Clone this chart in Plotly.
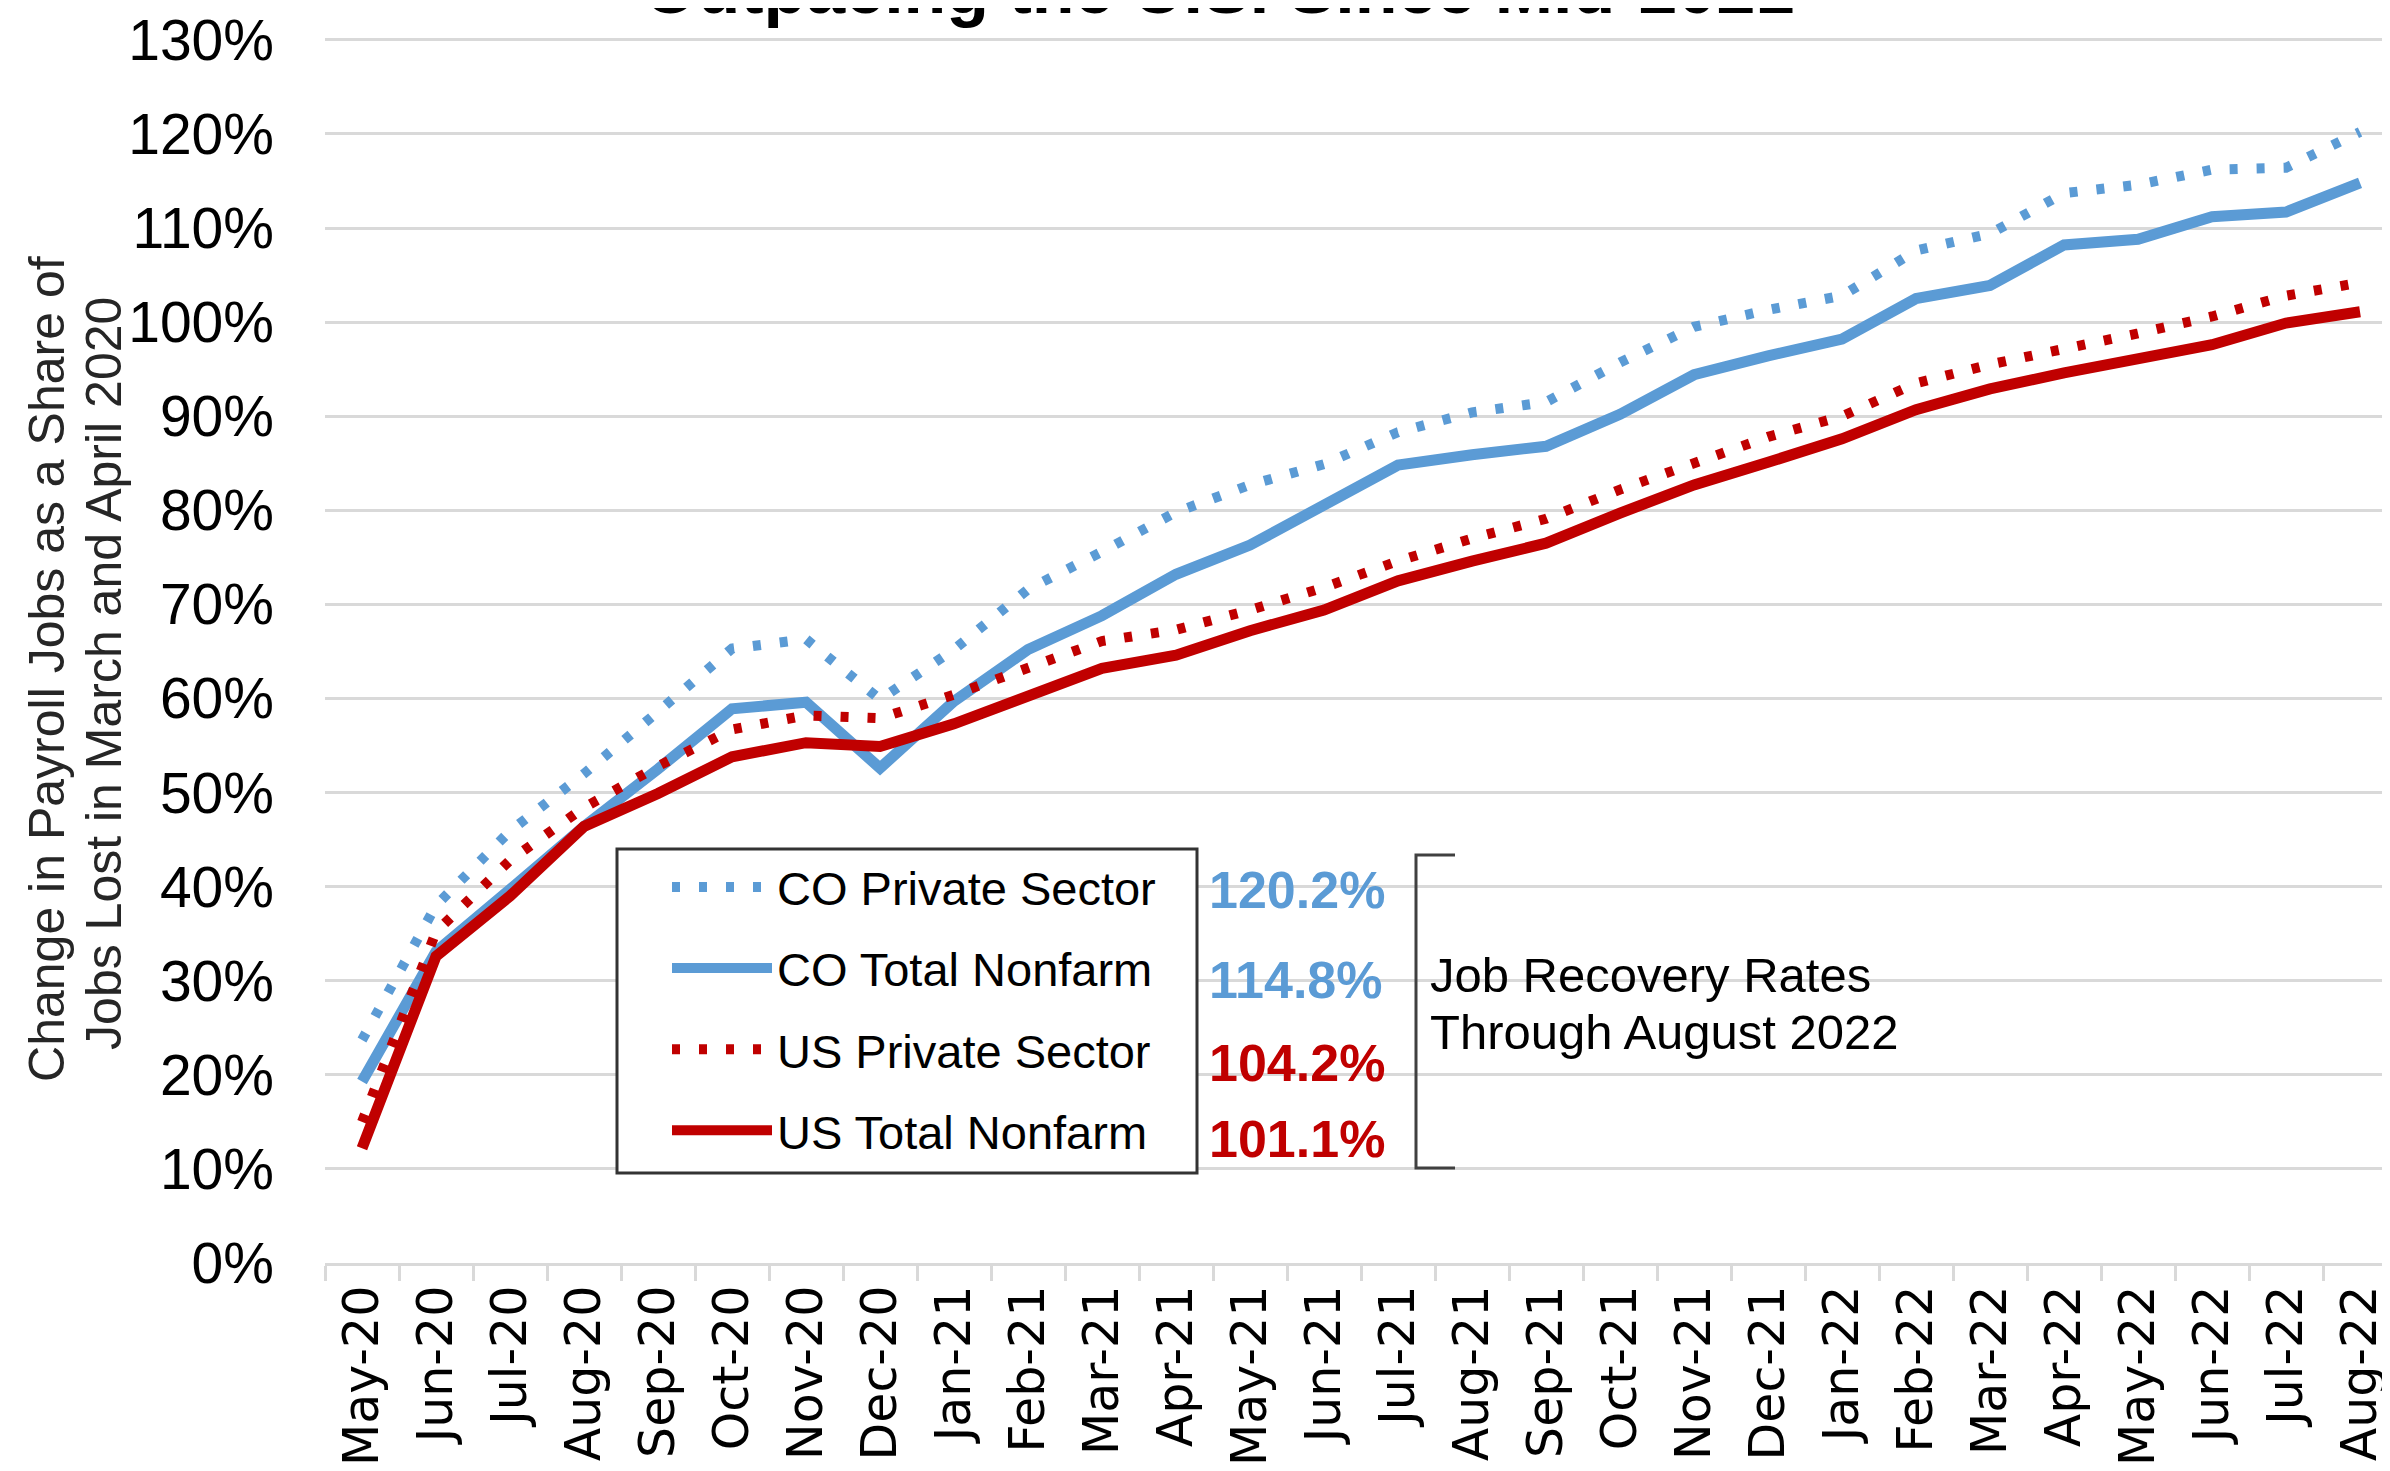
import plotly.graph_objects as go

# x categories
months = [
    "May-20", "Jun-20", "Jul-20", "Aug-20", "Sep-20", "Oct-20", "Nov-20", "Dec-20",
    "Jan-21", "Feb-21", "Mar-21", "Apr-21", "May-21", "Jun-21", "Jul-21", "Aug-21",
    "Sep-21", "Oct-21", "Nov-21", "Dec-21",
    "Jan-22", "Feb-22", "Mar-22", "Apr-22", "May-22", "Jun-22", "Jul-22", "Aug-22",
]

# recovery rates, % of jobs lost in Mar/Apr 2020
co_private = [23.7, 38.0, 45.9, 52.0, 58.6, 65.3, 66.3, 59.9, 65.2, 71.6, 75.6, 79.8,
              82.7, 84.9, 88.3, 90.4, 91.5, 95.7, 99.5, 101.3, 102.8, 107.6, 109.4,
              113.7, 114.6, 116.2, 116.4, 120.2]
co_total = [19.3, 33.1, 39.7, 46.4, 52.5, 58.9, 59.6, 52.6, 59.7, 65.2, 68.8, 73.2,
            76.3, 80.7, 84.8, 85.9, 86.8, 90.2, 94.4, 96.4, 98.2, 102.5, 103.9,
            108.2, 108.8, 111.2, 111.7, 114.8]
us_private = [15.0, 35.2, 42.8, 48.4, 52.8, 56.7, 58.2, 57.9, 60.4, 63.2, 66.1, 67.3,
              69.4, 71.8, 74.6, 77.0, 79.1, 82.2, 85.1, 87.8, 90.0, 93.5, 95.5,
              97.1, 98.8, 100.6, 102.8, 104.2]
us_total = [12.2, 32.6, 39.0, 46.4, 49.9, 53.8, 55.3, 54.9, 57.3, 60.2, 63.2, 64.6,
            67.2, 69.4, 72.5, 74.6, 76.5, 79.7, 82.7, 85.1, 87.6, 90.7, 92.9,
            94.6, 96.2, 97.6, 99.9, 101.1]

series_names = ["CO Private Sector", "CO Total Nonfarm", "US Private Sector", "US Total Nonfarm"]
latest_labels = ["120.2%", "114.8%", "104.2%", "101.1%"]
y_ticks = list(range(0, 131, 10))
y_tick_text = [f"{v}%" for v in y_ticks]

BLUE = "#5b9bd5"
RED = "#c00000"
FONT = "Liberation Sans, Arial, sans-serif"

# the page body has an 8px margin, so the figure is shrunk by that much
OFF = 8
W, H = 2390 - OFF, 1471 - OFF
Y_MAX = 130.3
PLOT_LEFT, PLOT_BOTTOM, Y130 = 325, 1263, 40   # page pixels
unit = (PLOT_BOTTOM - Y130) / 130.0
L = PLOT_LEFT - OFF
B = H - (PLOT_BOTTOM - OFF)
T = (Y130 - OFF) - (Y_MAX - 130) * unit
R = 0
PW, PH = W - L - R, H - T - B


def px(x):
    return (x - OFF - L) / PW


def py(y):
    return (H - B - (y - OFF)) / PH


fig = go.Figure()

styles = [(BLUE, True), (BLUE, False), (RED, True), (RED, False)]
for name, vals, (color, dotted) in zip(series_names, [co_private, co_total, us_private, us_total], styles):
    fig.add_trace(go.Scatter(
        x=months, y=vals, name=name, mode="lines", legendgroup=name,
        line=dict(color=color, width=10 if dotted else 11,
                  dash="8px,19px" if dotted else "solid"),
    ))

annotations = [
    # title, mostly cut off at the top in the original
    dict(text="<b>Outpacing the U.S. Since Mid-2021</b>", x=px(1218), y=py(-11),
         xanchor="center", yanchor="middle", font=dict(size=70, color="black")),
    dict(text="Change in Payroll Jobs as a Share of", x=px(47), y=py(669),
         xanchor="center", yanchor="middle", textangle=-90,
         font=dict(size=50, color="#262626")),
    dict(text="Jobs Lost in March and April 2020", x=px(104), y=py(674),
         xanchor="center", yanchor="middle", textangle=-90,
         font=dict(size=50, color="#262626")),
    dict(text="Job Recovery Rates", x=px(1428), y=py(975), xanchor="left", yanchor="middle",
         font=dict(size=49, color="black")),
    dict(text="Through August 2022", x=px(1428), y=py(1032), xanchor="left", yanchor="middle",
         font=dict(size=49, color="black")),
]
for lab, yc, color in zip(latest_labels, [890, 980, 1063, 1139], [BLUE, BLUE, RED, RED]):
    annotations.append(dict(text=f"<b>{lab}</b>", x=px(1207), y=py(yc), xanchor="left",
                            yanchor="middle", font=dict(size=52, color=color)))
for a in annotations:
    a.update(xref="paper", yref="paper", showarrow=False)

shapes = [
    dict(type="rect", xref="paper", yref="paper", x0=px(617), x1=px(1197), y0=py(849), y1=py(1173),
         line=dict(color="#333333", width=3), fillcolor="white", layer="above"),
    dict(type="path", xref="paper", yref="paper",
         path=f"M {px(1455)},{py(855)} L {px(1416)},{py(855)} L {px(1416)},{py(1168)} L {px(1455)},{py(1168)}",
         line=dict(color="#404040", width=3)),
]

fig.update_layout(
    width=W, height=H,
    margin=dict(l=L, r=R, t=T, b=B, pad=0),
    paper_bgcolor="white", plot_bgcolor="white",
    font=dict(family=FONT, color="black"),
    showlegend=True,
    legend=dict(x=px(667), y=py(850), xanchor="left", yanchor="top",
                bgcolor="rgba(0,0,0,0)", borderwidth=0, font=dict(size=47, color="black"),
                itemwidth=100, tracegroupgap=17, traceorder="grouped"),
    xaxis=dict(type="category", range=[-0.5, 27.405], showgrid=False,
               showline=True, linecolor="#d9d9d9", linewidth=3,
               ticks="outside", tickson="boundaries", ticklen=15, tickwidth=3, tickcolor="#d9d9d9",
               tickangle=-90, tickfont=dict(family="DejaVu Sans", size=49, color="black")),
    yaxis=dict(range=[0, Y_MAX], tickvals=y_ticks, ticktext=y_tick_text,
               showgrid=True, gridcolor="#d9d9d9", gridwidth=3, zeroline=False,
               showline=False, ticks="", tickfont=dict(size=57, color="black"),
               ticklabelstandoff=50, ticklabeloverflow="allow"),
    annotations=annotations,
    shapes=shapes,
)

fig.write_html("out.html")
